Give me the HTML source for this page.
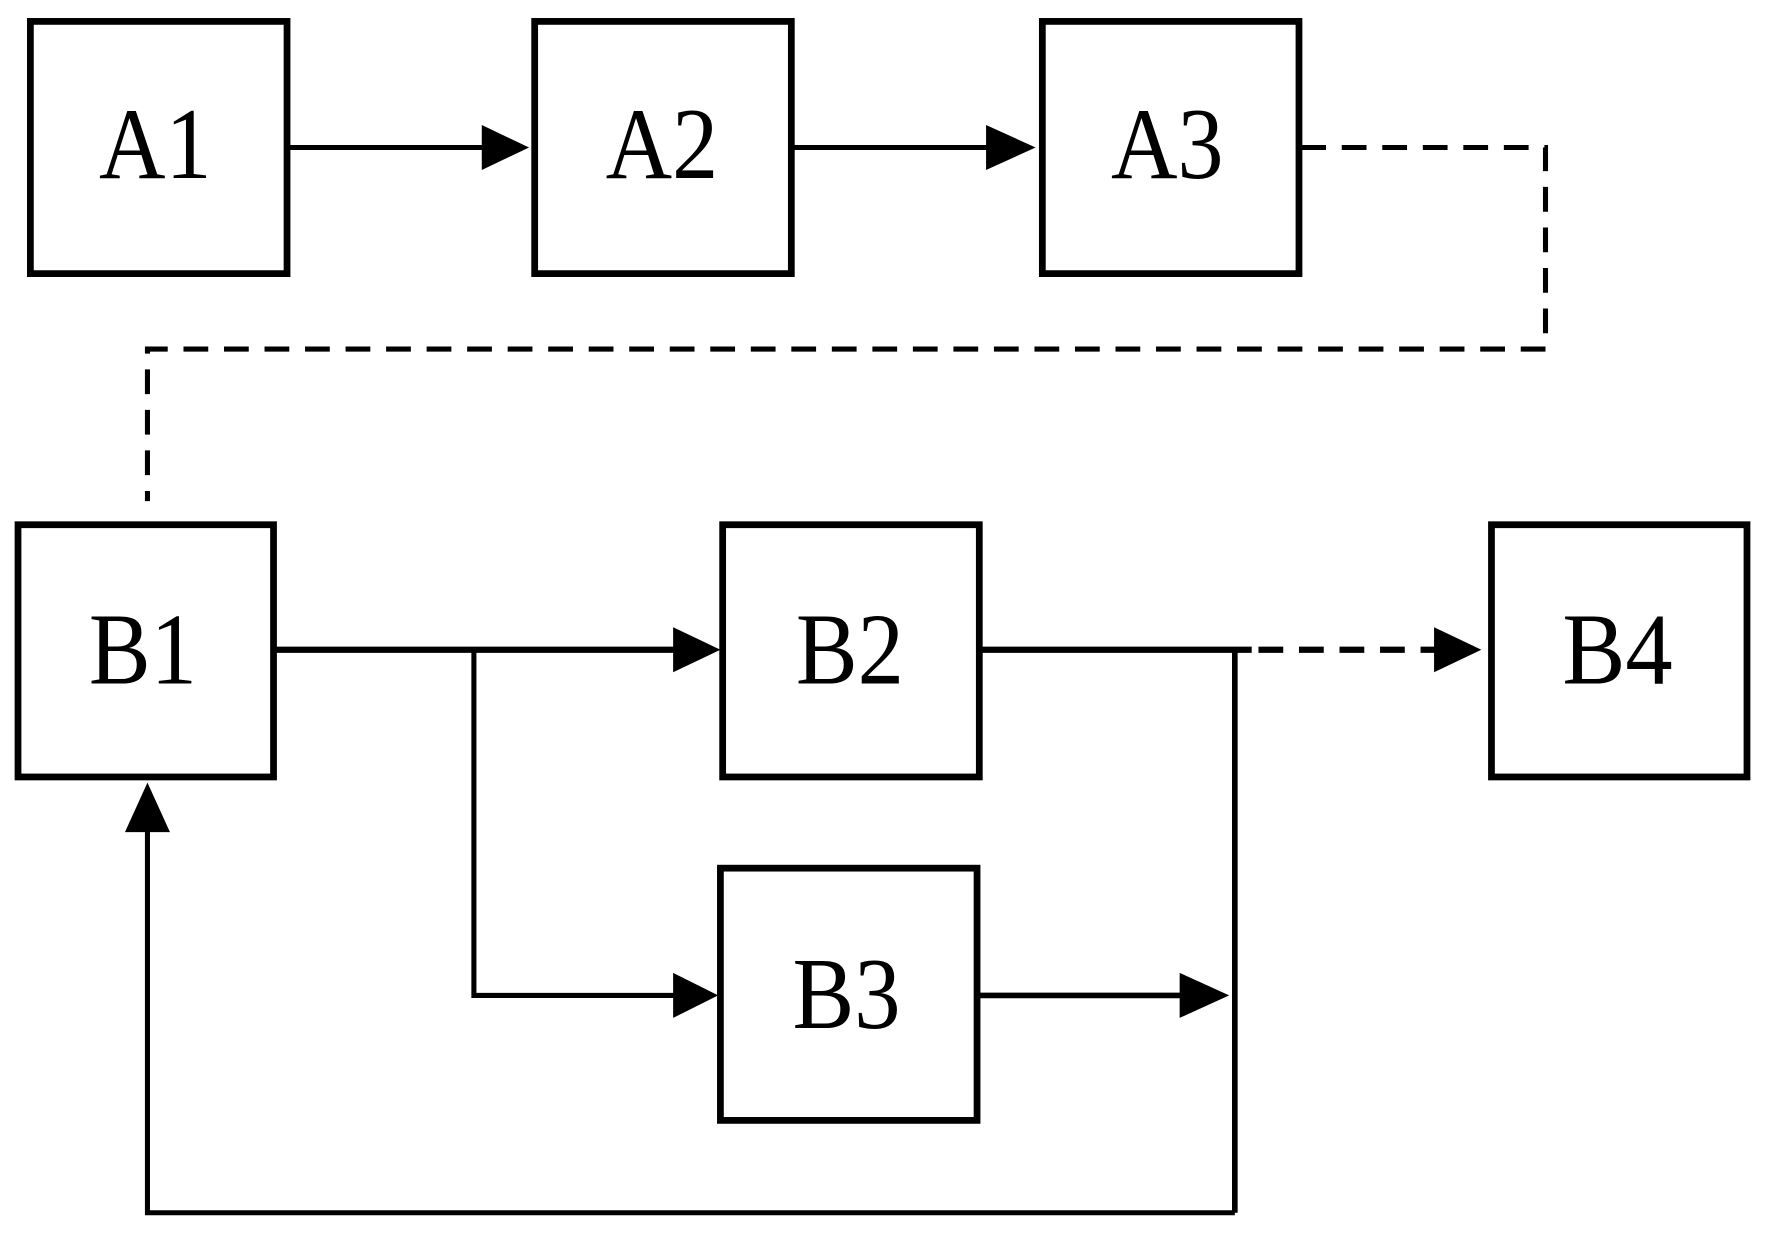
<!DOCTYPE html>
<html><head><meta charset="utf-8"><style>
html,body{margin:0;padding:0;background:#fff;}
svg{display:block;}
text{font-family:"Liberation Serif","Times New Roman",serif;font-size:90px;fill:#000;text-anchor:middle;}
</style></head><body>
<svg width="1765" height="1233" viewBox="0 0 1568 1095" preserveAspectRatio="none" xmlns="http://www.w3.org/2000/svg">
<g fill="none" stroke="#000" stroke-width="6">
<rect x="27" y="19" width="228" height="224"/>
<rect x="475" y="19" width="228" height="224"/>
<rect x="926" y="19" width="228" height="224"/>
<rect x="16" y="466" width="227" height="224"/>
<rect x="642" y="466" width="228" height="224"/>
<rect x="1325" y="466" width="227" height="224"/>
<rect x="640" y="771" width="228" height="224"/>
</g>
<g fill="none" stroke="#000" stroke-width="4.5">
<line x1="257" y1="131" x2="440" y2="131"/>
<line x1="705" y1="131" x2="890" y2="131"/>
<line x1="245" y1="577" x2="610" y2="577" stroke-width="5.5"/>
<polyline points="421,577 421,884 610,884"/>
<line x1="872" y1="577" x2="1112" y2="577" stroke-width="5.5"/>
<line x1="1097" y1="577" x2="1097" y2="1077" stroke-width="5"/>
<line x1="870" y1="884" x2="1060" y2="884" stroke-width="5"/>
<polyline points="1097,1077 131,1077 131,730"/>
</g>
<g fill="none" stroke="#000" stroke-width="4.5" stroke-dasharray="22,14">
<polyline points="1156,131 1373,131 1373,310 131,310 131,445"/>
<line x1="1118" y1="577" x2="1290" y2="577" stroke-width="5.5"/>
</g>
<g fill="#000">
<polygon points="470,131 428,111 428,151"/>
<polygon points="920,131 876,111 876,151"/>
<polygon points="640,577 598,557 598,597"/>
<polygon points="638,884 598,864 598,904"/>
<polygon points="1316,577 1274,557 1274,597"/>
<polygon points="1092,884 1048,864 1048,904"/>
<polygon points="131,695 111,739 151,739"/>
</g>
<g>
<text x="138" y="158" textLength="100" lengthAdjust="spacingAndGlyphs">A1</text>
<text x="588" y="158" textLength="100" lengthAdjust="spacingAndGlyphs">A2</text>
<text x="1037" y="158" textLength="100" lengthAdjust="spacingAndGlyphs">A3</text>
<text x="127" y="607" textLength="96" lengthAdjust="spacingAndGlyphs">B1</text>
<text x="755" y="607" textLength="96" lengthAdjust="spacingAndGlyphs">B2</text>
<text x="1437" y="607" textLength="98" lengthAdjust="spacingAndGlyphs">B4</text>
<text x="752" y="913" textLength="96" lengthAdjust="spacingAndGlyphs">B3</text>
</g>
</svg>
</body></html>
